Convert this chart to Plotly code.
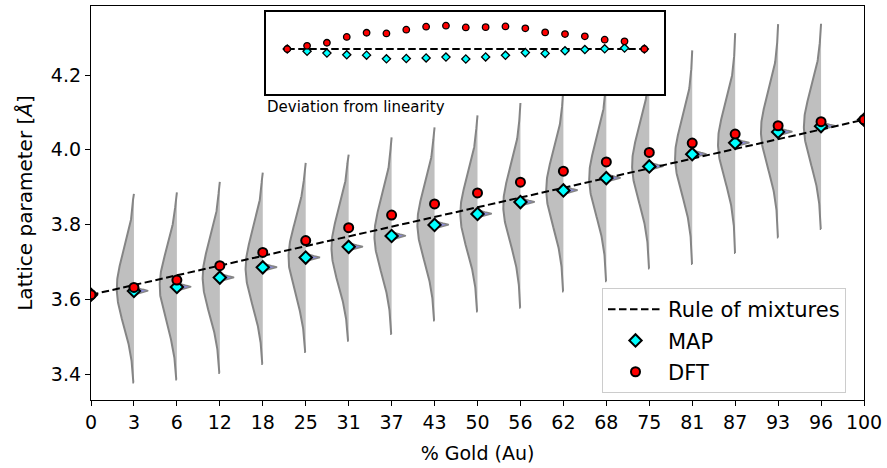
import numpy as np
import plotly.graph_objects as go

# ---------------- data ----------------
compositions = [0, 3, 6, 12, 18, 25, 31, 37, 43, 50, 56, 62, 68, 75, 81, 87, 93, 96, 100]
dft_values = [3.6120, 3.6317, 3.6513, 3.6898, 3.7253, 3.7569, 3.7916, 3.8252, 3.8550, 3.8846,
              3.9133, 3.9426, 3.9673, 3.9929, 4.0180, 4.0421, 4.0642, 4.0752, 4.0803]
map_values = [3.6120, 3.6220, 3.6328, 3.6579, 3.6853, 3.7115, 3.7402, 3.7693, 3.7989, 3.8283,
              3.8600, 3.8911, 3.9240, 3.9554, 3.9881, 4.0184, 4.0478, 4.0632, 4.0803]
# posterior spread (violins) for the interior compositions 3 ... 96
violin_low = [3.377, 3.385, 3.403, 3.427, 3.459, 3.489, 3.507, 3.543, 3.567, 3.577, 3.621,
              3.648, 3.682, 3.694, 3.724, 3.765, 3.788]
violin_high = [3.882, 3.886, 3.914, 3.939, 3.965, 3.987, 4.033, 4.060, 4.092, 4.125, 4.166,
               4.201, 4.236, 4.266, 4.312, 4.336, 4.337]
violin_sd = 0.098
map_sd = 0.0045
y_ticks = [3.4, 3.6, 3.8, 4.0, 4.2]

idx = list(range(len(compositions)))
n = len(compositions)

fig = go.Figure()

# ---------------- violins ----------------
VW = 0.40   # half width of posterior violin (category units)
SW = 0.33   # width of MAP spike
for k, i in enumerate(idx[1:-1]):
    lo, hi = violin_low[k], violin_high[k]
    mid = (lo + hi) / 2
    ys = np.linspace(lo, hi, 160)
    w = VW * np.exp(-0.5 * ((ys - mid) / violin_sd) ** 2)
    xs = np.concatenate([[i], i - w, [i]])
    yy = np.concatenate([[lo], ys, [hi]])
    fig.add_trace(go.Scatter(x=xs, y=yy, mode='lines', fill='toself',
                             fillcolor='#bfbfbf', line=dict(color='#858585', width=2),
                             showlegend=False, hoverinfo='skip'))
    m = map_values[i]
    ys2 = np.linspace(m - 3 * map_sd, m + 3 * map_sd, 40)
    w2 = SW * np.exp(-0.5 * ((ys2 - m) / map_sd) ** 2)
    xs2 = np.concatenate([[i], i + w2, [i]])
    yy2 = np.concatenate([[ys2[0]], ys2, [ys2[-1]]])
    fig.add_trace(go.Scatter(x=xs2, y=yy2, mode='lines', fill='toself',
                             fillcolor='#8c8ce0', line=dict(color='#858585', width=1.5),
                             showlegend=False, hoverinfo='skip'))

# ---------------- rule of mixtures ----------------
fig.add_trace(go.Scatter(x=[idx[0], idx[-1]], y=[dft_values[0], dft_values[-1]], mode='lines',
                         line=dict(color='black', width=2, dash='7.5px,3.5px'),
                         name='Rule of mixtures', legendgroup='a'))
fig.add_trace(go.Scatter(x=idx, y=map_values, mode='markers', name='MAP', legendgroup='b',
                         marker=dict(symbol='diamond', size=9.5, color='#00ffff',
                                     line=dict(color='black', width=2))))
fig.add_trace(go.Scatter(x=idx, y=dft_values, mode='markers', name='DFT', legendgroup='c',
                         marker=dict(symbol='circle', size=9, color='#ff0000',
                                     line=dict(color='black', width=2))))

# ---------------- inset: deviation from linearity ----------------
a0, a1 = dft_values[0], dft_values[-1]
rom = [a0 + c / 100.0 * (a1 - a0) for c in compositions]
dev_dft = [d - r for d, r in zip(dft_values, rom)]
dev_map = [d - r for d, r in zip(map_values, rom)]
fig.add_trace(go.Scatter(x=[idx[0], idx[-1]], y=[0, 0], mode='lines', xaxis='x2', yaxis='y2',
                         line=dict(color='black', width=2, dash='7.5px,3.5px'),
                         showlegend=False, hoverinfo='skip'))
fig.add_trace(go.Scatter(x=idx, y=dev_map, mode='markers', xaxis='x2', yaxis='y2', showlegend=False,
                         marker=dict(symbol='diamond', size=6.3, color='#00ffff',
                                     line=dict(color='black', width=1.3))))
fig.add_trace(go.Scatter(x=idx, y=dev_dft, mode='markers', xaxis='x2', yaxis='y2', showlegend=False,
                         marker=dict(symbol='circle', size=6.5, color='#ff0000',
                                     line=dict(color='black', width=1.3))))

# ---------------- layout ----------------
L, R, T, B = 91, 23, 6, 68
W, H = 887, 468
pw, ph = W - L - R, H - T - B

def px_x(p):
    return (p - L) / pw

def px_y(p):
    return (H - B - p) / ph

axis_common = dict(showline=True, mirror=True, linecolor='black', linewidth=1.3,
                   showgrid=False, zeroline=False, ticks='outside', ticklen=5,
                   tickcolor='black', tickwidth=1.3)

fig.update_layout(
    width=W, height=H,
    margin=dict(l=L, r=R, t=T, b=B),
    paper_bgcolor='white', plot_bgcolor='white',
    font=dict(family='DejaVu Sans', size=19, color='black'),
    xaxis=dict(range=[0, n - 1], tickvals=idx, ticktext=[str(c) for c in compositions],
               title=dict(text='% Gold (Au)', standoff=14, font=dict(size=19)),
               **axis_common),
    yaxis=dict(range=[3.4 - 26 / 373.75, 4.2 + 69 / 373.75], tickvals=y_ticks,
               ticktext=[f'{v:.1f}' for v in y_ticks],
               title=dict(text='Lattice parameter [<i>Å</i>]', standoff=12, font=dict(size=20)),
               **axis_common),
    xaxis2=dict(domain=[px_x(266), px_x(664)], anchor='y2', range=[-1.07, 18.99],
                showline=True, mirror=True, linecolor='black', linewidth=1.5,
                showgrid=False, zeroline=False, showticklabels=False, ticks=''),
    yaxis2=dict(domain=[px_y(94), px_y(12)], anchor='x2', range=[-45 / 560, 37 / 560],
                showline=True, mirror=True, linecolor='black', linewidth=1.5,
                showgrid=False, zeroline=False, showticklabels=False, ticks=''),
    legend=dict(x=px_x(602), y=px_y(288), xanchor='left', yanchor='top',
                bgcolor='rgba(255,255,255,0.85)', bordercolor='#cccccc', borderwidth=1,
                font=dict(size=21), tracegroupgap=1, itemwidth=55),
    annotations=[dict(text='Deviation from linearity', xref='paper', yref='paper',
                      x=px_x(265), y=px_y(107), xanchor='left', yanchor='middle',
                      showarrow=False, font=dict(size=15))],
    showlegend=True,
)

fig.write_html('out.html', config={'displayModeBar': False},
               post_script="document.body.style.margin='0px';")
